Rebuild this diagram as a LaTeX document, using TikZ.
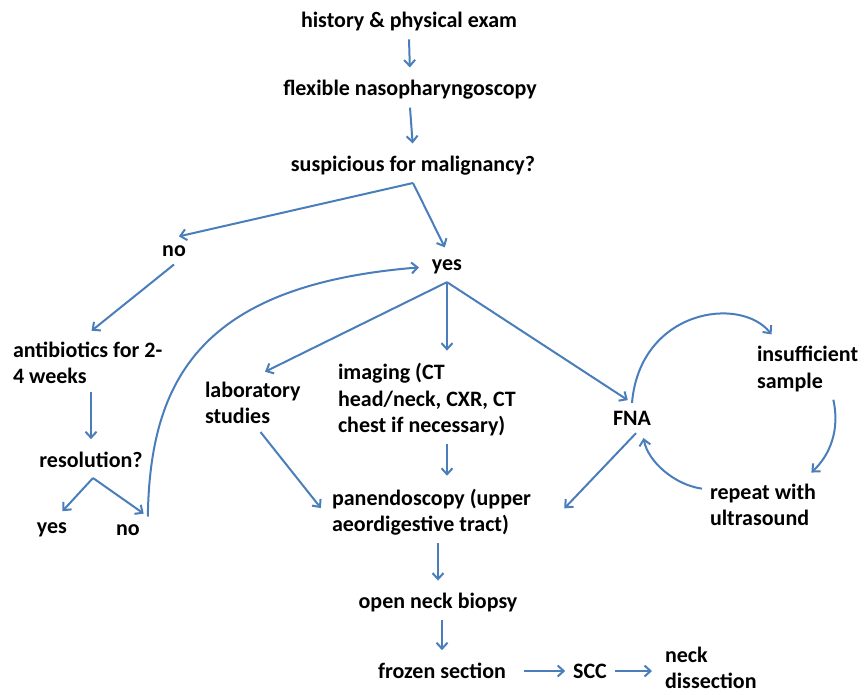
\documentclass[tikz,border=0pt]{standalone}
\usepackage{fontspec}
\setmainfont{Carlito}
\usetikzlibrary{arrows.meta,calc}
\definecolor{flowblue}{RGB}{74,126,187}

\begin{document}
\begin{tikzpicture}[x=1pt,y=-1pt,
  lbl/.style={inner sep=0pt, outer sep=8pt, align=left,
    font=\bfseries\fontsize{22}{26.5}\selectfont},
  arr/.style={-{Straight Barb[length=6pt,width=11pt]}, line width=2pt,
    flowblue, shorten >=5pt}]
\useasboundingbox (0,0) rectangle (864,695);

% Work-up
\node[lbl] (hist) at (409,22) {history \& physical exam};
\node[lbl] (flex) at (410,90) {flexible nasopharyngoscopy};
\node[lbl] (susp) at (413,166) {suspicious for malignancy?};
\coordinate (sfork) at (413,183);
\node[lbl] (no) at (174,251) {no};
\node[lbl] (yes) at (447,267) {yes};

% Left branch
\node[lbl, anchor=west] (anti) at (5,363) {antibiotics for 2-\\4 weeks};
\node[lbl] (res) at (91,460) {resolution?};
\coordinate (rfork) at (93,478);
\node[lbl] (ryes) at (52,530) {yes};
\node[lbl] (rno) at (128,530) {no};

% Right branch
\node[lbl, anchor=west] (lab) at (197,403) {laboratory\\studies};
\node[lbl, anchor=west] (img) at (330,400) {imaging (CT\\head/neck, CXR, CT\\chest if necessary)};
\node[lbl] (fna) at (632,418) {FNA};
\node[lbl, anchor=west] (ins) at (749,369) {insufficient\\sample};
\node[lbl, anchor=west] (rep) at (702,505) {repeat with\\ultrasound};
\node[lbl, anchor=west] (pan) at (324,512) {panendoscopy (upper\\aeordigestive tract)};
\node[lbl] (onb) at (438,603) {open neck biopsy};
\node[lbl] (frz) at (442,671) {frozen section};
\node[lbl] (scc) at (590,671) {SCC};
\node[lbl, anchor=west] (neck) at (657,668) {neck\\dissection};

% Connectors
\draw[arr] (hist.south) -- (flex.north);
\draw[arr] (flex.south) -- (susp.north);
\draw[arr] (sfork) -- (no.north);
\draw[arr] (sfork) -- (yes.north);
\draw[arr] (no.south) -- (anti.north);
\draw[arr] (anti.south -| res.north) -- (res.north);
\draw[arr] (rfork) -- (ryes.65);
\draw[arr] (rfork) -- (rno.north east);
\draw[arr] (rno.north east) .. controls (150,380) and (200,285) .. (yes.west);

\draw[arr] (yes.south) -- (lab.75);
\draw[arr] (yes.south) -- (img.north -| yes.south);
\draw[arr] (yes.south) -- (fna.north);
\draw[arr] (fna.north) .. controls (640,310) and (740,295) .. (ins.137);
\draw[arr] (ins.-50) .. controls (840,430) and (830,455) .. (rep.33);
\draw[arr] (rep.165) .. controls (675,485) and (648,462) .. (fna.-55);

\draw[arr] (lab.-75) -- (pan.west);
\draw[arr] (img.south -| yes.south) -- (pan.north -| yes.south);
\draw[arr] (fna.-75) -- ([xshift=22pt]pan.east);
\draw[arr] (pan.south -| onb.north) -- (onb.north);
\draw[arr] (onb.south -| frz.north) -- (frz.north);
\draw[arr, shorten <=10pt, shorten >=0pt] (frz.east) -- (scc.west);
\draw[arr] (scc.east) -- (scc.east -| neck.west);
\end{tikzpicture}
\end{document}
